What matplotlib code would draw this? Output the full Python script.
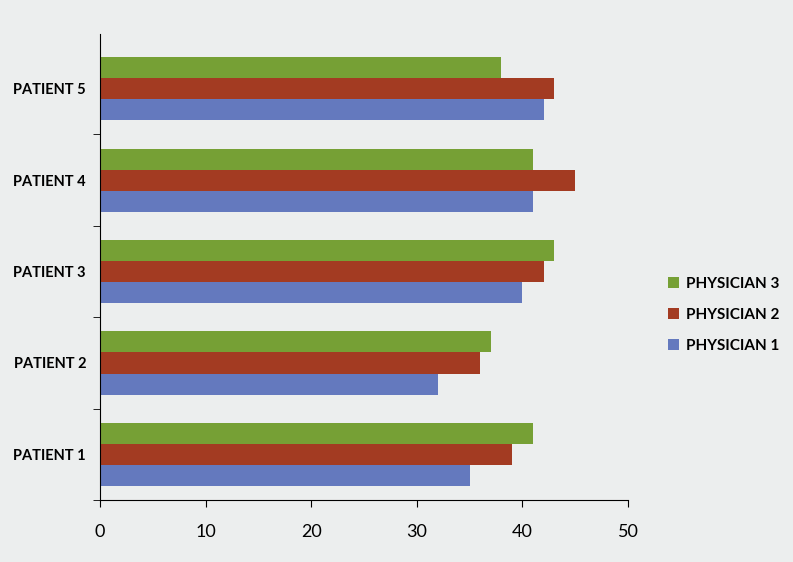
import matplotlib.pyplot as plt
import numpy as np

# 患者ごとの値 (PHYSICIAN 1..3)
patients = ['PATIENT 1', 'PATIENT 2', 'PATIENT 3', 'PATIENT 4', 'PATIENT 5']
physician1 = [35, 32, 40, 41, 42]
physician2 = [39, 36, 42, 45, 43]
physician3 = [41, 37, 43, 41, 38]
xticks = [0, 10, 20, 30, 40, 50]

plt.rcParams['font.family'] = ['Lato', 'DejaVu Sans']

fig = plt.figure(figsize=(7.93, 5.62), dpi=100)
fig.patch.set_facecolor('#eceeee')
ax = fig.add_axes([0.126, 0.11, 0.666, 0.83])
ax.set_facecolor('#eceeee')

y = np.arange(len(patients))
h = 0.23
ax.barh(y - h, physician1, height=h, color='#6479be', label='PHYSICIAN 1')
ax.barh(y, physician2, height=h, color='#a33b22', label='PHYSICIAN 2')
ax.barh(y + h, physician3, height=h, color='#76a035', label='PHYSICIAN 3')

ax.set_xlim(0, 50)
ax.set_ylim(-0.5, len(patients) - 0.4)
ax.set_xticks(xticks)
ax.set_xticklabels([str(t) for t in xticks], fontsize=13)
ax.set_yticks(y)
ax.set_yticklabels(patients, fontsize=10.5, fontweight='bold')
ax.tick_params(axis='y', length=0, pad=10)
ax.set_yticks(np.arange(len(patients)) + 0.5 - 1, minor=True)
ax.tick_params(axis='y', which='minor', length=5)
ax.tick_params(axis='x', length=5, pad=12)

for s in ['top', 'right']:
    ax.spines[s].set_visible(False)

handles, labels = ax.get_legend_handles_labels()
leg = fig.legend(handles[::-1], labels[::-1], loc='center left',
                 bbox_to_anchor=(0.825, 0.44), frameon=False,
                 prop={'size': 11, 'weight': 'bold'},
                 handlelength=0.7, handleheight=0.7, handletextpad=0.5,
                 labelspacing=1.1)

plt.savefig('out.png', dpi=100, facecolor=fig.get_facecolor())
